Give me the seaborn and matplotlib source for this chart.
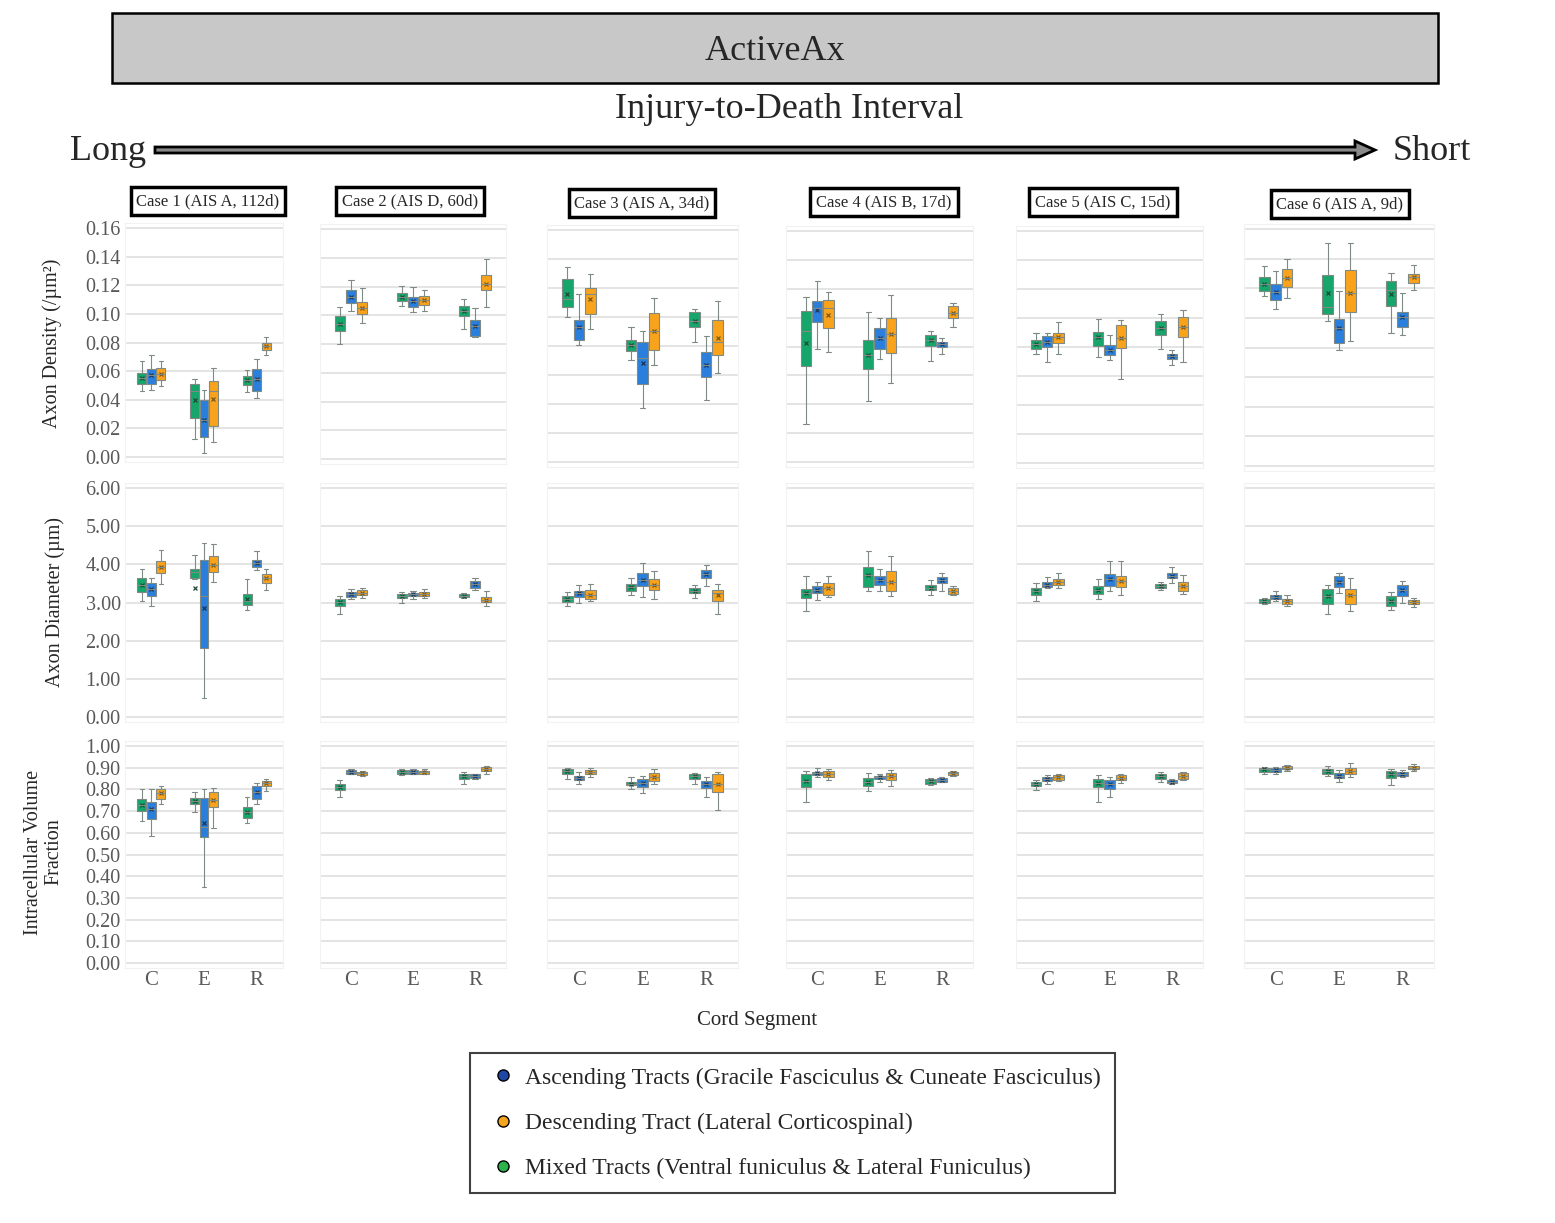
import itertools

import numpy as np
import pandas as pd
import seaborn as sns
import matplotlib.pyplot as plt
from matplotlib.patches import Rectangle, FancyArrow
from matplotlib.lines import Line2D

# categories
SEGMENTS = ['C', 'E', 'R']
TRACTS = ['Mixed', 'Ascending', 'Descending']
CASES = ['Case 1 (AIS A, 112d)', 'Case 2 (AIS D, 60d)', 'Case 3 (AIS A, 34d)',
         'Case 4 (AIS B, 17d)', 'Case 5 (AIS C, 15d)', 'Case 6 (AIS A, 9d)']
BOX_COLORS = ['#16a56b', '#2a7fdc', '#f9a31c']
MEAN_COLORS = ['#1d4a37', '#1d3557', '#7a5a1c']
LEGEND_LABELS = ['Ascending Tracts (Gracile Fasciculus & Cuneate Fasciculus)',
                 'Descending Tract (Lateral Corticospinal)',
                 'Mixed Tracts (Ventral funiculus & Lateral Funiculus)']
LEGEND_COLORS = ['#1f48a6', '#f4a51c', '#2db34c']

# one row per case, 9 values per row:
# C-mixed, C-asc, C-desc, E-mixed, E-asc, E-desc, R-mixed, R-asc, R-desc

# ---- Axon density (/um^2) ----
DENS_LO = [
    [0.046, 0.047, 0.0495, 0.0128, 0.003, 0.0105, 0.0453, 0.041, 0.071],
    [0.0802, 0.1027, 0.0946, 0.1062, 0.1023, 0.1027, 0.0907, 0.0849, 0.1055],
    [0.1001, 0.081, 0.0914, 0.0702, 0.0373, 0.0668, 0.0829, 0.0426, 0.0617],
    [0.0266, 0.0785, 0.076, 0.0423, 0.0711, 0.0547, 0.0697, 0.075, 0.0935],
    [0.075, 0.0695, 0.075, 0.0732, 0.0709, 0.0582, 0.0785, 0.0675, 0.0698],
    [0.1149, 0.1061, 0.1134, 0.0976, 0.078, 0.0845, 0.0901, 0.0886, 0.1185],
]
DENS_Q1 = [
    [0.0512, 0.0512, 0.054, 0.0274, 0.014, 0.0216, 0.0502, 0.046, 0.0749],
    [0.0888, 0.1085, 0.1009, 0.11, 0.1057, 0.1069, 0.0997, 0.0858, 0.1178],
    [0.1068, 0.084, 0.1022, 0.0764, 0.0541, 0.0769, 0.093, 0.0585, 0.0737],
    [0.0667, 0.0967, 0.093, 0.0646, 0.0785, 0.0757, 0.0803, 0.0797, 0.1],
    [0.0785, 0.0801, 0.0831, 0.081, 0.0748, 0.0794, 0.0882, 0.0714, 0.087],
    [0.1183, 0.1122, 0.1206, 0.1028, 0.0829, 0.1039, 0.1082, 0.0937, 0.1235],
]
DENS_MED = [
    [0.055, 0.057, 0.058, 0.046, 0.0256, 0.046, 0.0535, 0.0544, 0.0774],
    [0.094, 0.1127, 0.105, 0.1129, 0.1101, 0.1104, 0.1032, 0.0928, 0.122],
    [0.1123, 0.0932, 0.116, 0.081, 0.0714, 0.0902, 0.0972, 0.0672, 0.083],
    [0.0905, 0.107, 0.107, 0.0743, 0.0861, 0.0889, 0.0843, 0.0815, 0.1034],
    [0.082, 0.0836, 0.087, 0.087, 0.0778, 0.0863, 0.0932, 0.0737, 0.0939],
    [0.1228, 0.1174, 0.1269, 0.1075, 0.0931, 0.1167, 0.119, 0.1005, 0.1273],
]
DENS_Q3 = [
    [0.0588, 0.0616, 0.062, 0.0507, 0.0395, 0.0528, 0.0567, 0.0614, 0.0795],
    [0.0992, 0.1173, 0.109, 0.1155, 0.1127, 0.1132, 0.1062, 0.0965, 0.1282],
    [0.1262, 0.0978, 0.12, 0.084, 0.0826, 0.1029, 0.1036, 0.0762, 0.0978],
    [0.1046, 0.1115, 0.1124, 0.0843, 0.093, 0.0997, 0.0882, 0.0831, 0.1078],
    [0.0847, 0.0875, 0.0898, 0.0905, 0.0813, 0.0955, 0.0981, 0.0755, 0.1004],
    [0.1273, 0.123, 0.133, 0.1291, 0.0992, 0.1325, 0.1246, 0.1043, 0.1296],
]
DENS_HI = [
    [0.0674, 0.0716, 0.067, 0.0547, 0.0465, 0.0623, 0.061, 0.0686, 0.0835],
    [0.1057, 0.1243, 0.119, 0.1201, 0.1194, 0.1178, 0.1113, 0.105, 0.1394],
    [0.1347, 0.1158, 0.1294, 0.0932, 0.0902, 0.1128, 0.1052, 0.087, 0.1112],
    [0.1143, 0.1254, 0.1177, 0.1039, 0.1, 0.1154, 0.0907, 0.0859, 0.1104],
    [0.0898, 0.0898, 0.0974, 0.099, 0.0882, 0.0985, 0.1031, 0.0778, 0.1054],
    [0.1352, 0.1318, 0.1397, 0.1505, 0.1179, 0.1505, 0.1303, 0.1167, 0.1359],
]
DENS_MEAN = [
    [0.055, 0.057, 0.058, 0.0395, 0.0256, 0.0405, 0.0535, 0.0544, 0.0774],
    [0.094, 0.1127, 0.105, 0.1129, 0.1101, 0.1104, 0.1032, 0.0928, 0.122],
    [0.1156, 0.0932, 0.1123, 0.081, 0.0684, 0.0902, 0.0972, 0.0672, 0.0854],
    [0.0824, 0.105, 0.102, 0.0743, 0.0861, 0.0889, 0.0843, 0.0815, 0.1034],
    [0.082, 0.0836, 0.087, 0.087, 0.0778, 0.0863, 0.0932, 0.0737, 0.0939],
    [0.1228, 0.1174, 0.1269, 0.1167, 0.0931, 0.1167, 0.1161, 0.1005, 0.1273],
]

# ---- Axon diameter (um) ----
DIAM_LO = [
    [3.04, 2.91, 3.49, 3.61, 0.51, 3.54, 2.80, 3.85, 3.32],
    [2.69, 3.08, 3.11, 3.00, 3.09, 3.12, 3.11, 3.32, 2.91],
    [2.91, 2.99, 3.03, 3.20, 3.15, 3.10, 3.11, 3.42, 2.70],
    [2.79, 3.06, 3.15, 3.29, 3.31, 3.17, 3.20, 3.31, 3.20],
    [3.04, 3.37, 3.37, 3.09, 3.29, 3.20, 3.33, 3.50, 3.22],
    [2.95, 3.03, 2.91, 2.69, 3.24, 2.78, 2.80, 3.00, 2.88],
]
DIAM_Q1 = [
    [3.28, 3.17, 3.78, 3.63, 1.80, 3.80, 2.93, 3.93, 3.50],
    [2.92, 3.14, 3.19, 3.11, 3.17, 3.16, 3.14, 3.39, 3.01],
    [3.02, 3.15, 3.09, 3.29, 3.42, 3.33, 3.24, 3.63, 3.04],
    [3.12, 3.24, 3.20, 3.40, 3.46, 3.29, 3.33, 3.50, 3.23],
    [3.19, 3.40, 3.45, 3.23, 3.43, 3.40, 3.38, 3.63, 3.29],
    [3.00, 3.08, 2.95, 2.95, 3.40, 2.95, 2.91, 3.16, 2.95],
]
DIAM_MED = [
    [3.47, 3.35, 3.93, 3.80, 3.18, 3.99, 3.05, 4.03, 3.63],
    [3.01, 3.22, 3.26, 3.17, 3.21, 3.22, 3.18, 3.48, 3.07],
    [3.10, 3.24, 3.20, 3.40, 3.58, 3.47, 3.31, 3.74, 3.24],
    [3.24, 3.33, 3.37, 3.71, 3.58, 3.55, 3.39, 3.58, 3.31],
    [3.29, 3.47, 3.54, 3.33, 3.61, 3.56, 3.43, 3.70, 3.43],
    [3.04, 3.14, 3.03, 3.18, 3.54, 3.20, 3.04, 3.33, 3.01],
]
DIAM_Q3 = [
    [3.65, 3.50, 4.08, 3.89, 4.12, 4.23, 3.23, 4.12, 3.74],
    [3.10, 3.27, 3.32, 3.23, 3.26, 3.27, 3.22, 3.57, 3.15],
    [3.18, 3.31, 3.34, 3.49, 3.76, 3.62, 3.38, 3.85, 3.33],
    [3.36, 3.42, 3.51, 3.93, 3.69, 3.82, 3.45, 3.66, 3.38],
    [3.38, 3.54, 3.61, 3.42, 3.74, 3.70, 3.48, 3.76, 3.54],
    [3.09, 3.20, 3.09, 3.36, 3.69, 3.35, 3.18, 3.46, 3.06],
]
DIAM_HI = [
    [3.88, 3.63, 4.38, 4.25, 4.56, 4.54, 3.62, 4.34, 3.87],
    [3.18, 3.36, 3.39, 3.27, 3.29, 3.35, 3.26, 3.65, 3.29],
    [3.27, 3.47, 3.49, 3.65, 4.03, 3.83, 3.46, 3.97, 3.49],
    [3.69, 3.55, 3.69, 4.36, 3.87, 4.21, 3.60, 3.76, 3.42],
    [3.50, 3.68, 3.77, 3.62, 4.08, 4.09, 3.54, 3.94, 3.72],
    [3.13, 3.29, 3.20, 3.47, 3.78, 3.65, 3.27, 3.56, 3.12],
]
DIAM_MEAN = [
    [3.47, 3.35, 3.93, 3.39, 2.86, 3.99, 3.10, 4.03, 3.63],
    [3.01, 3.22, 3.26, 3.17, 3.21, 3.22, 3.18, 3.48, 3.07],
    [3.10, 3.24, 3.20, 3.40, 3.58, 3.47, 3.31, 3.74, 3.20],
    [3.24, 3.33, 3.37, 3.71, 3.58, 3.55, 3.39, 3.58, 3.31],
    [3.29, 3.47, 3.54, 3.33, 3.61, 3.56, 3.43, 3.70, 3.43],
    [3.04, 3.14, 3.03, 3.18, 3.54, 3.20, 3.04, 3.33, 3.01],
]

# ---- Intracellular volume fraction ----
ICVF_LO = [
    [0.655, 0.586, 0.731, 0.697, 0.348, 0.623, 0.643, 0.731, 0.792],
    [0.765, 0.872, 0.864, 0.866, 0.869, 0.870, 0.824, 0.850, 0.873],
    [0.849, 0.823, 0.858, 0.802, 0.784, 0.823, 0.827, 0.764, 0.704],
    [0.741, 0.856, 0.842, 0.794, 0.833, 0.817, 0.820, 0.833, 0.864],
    [0.798, 0.826, 0.837, 0.744, 0.763, 0.829, 0.833, 0.823, 0.842],
    [0.873, 0.873, 0.884, 0.861, 0.835, 0.858, 0.819, 0.855, 0.887],
]
ICVF_Q1 = [
    [0.700, 0.663, 0.758, 0.731, 0.582, 0.717, 0.669, 0.755, 0.817],
    [0.796, 0.873, 0.867, 0.872, 0.872, 0.873, 0.847, 0.853, 0.883],
    [0.872, 0.843, 0.869, 0.818, 0.812, 0.838, 0.849, 0.806, 0.787],
    [0.811, 0.865, 0.859, 0.816, 0.848, 0.842, 0.826, 0.836, 0.868],
    [0.814, 0.840, 0.845, 0.811, 0.803, 0.842, 0.850, 0.829, 0.850],
    [0.881, 0.881, 0.892, 0.872, 0.853, 0.872, 0.853, 0.861, 0.892],
]
ICVF_MED = [
    [0.728, 0.709, 0.782, 0.746, 0.628, 0.751, 0.694, 0.786, 0.828],
    [0.809, 0.881, 0.875, 0.881, 0.881, 0.881, 0.861, 0.861, 0.892],
    [0.883, 0.853, 0.880, 0.827, 0.830, 0.858, 0.861, 0.824, 0.823],
    [0.837, 0.874, 0.873, 0.834, 0.856, 0.860, 0.837, 0.845, 0.876],
    [0.825, 0.850, 0.856, 0.829, 0.825, 0.854, 0.860, 0.836, 0.864],
    [0.892, 0.890, 0.900, 0.883, 0.864, 0.887, 0.873, 0.872, 0.898],
]
ICVF_Q3 = [
    [0.758, 0.743, 0.800, 0.762, 0.762, 0.786, 0.720, 0.815, 0.840],
    [0.823, 0.889, 0.881, 0.889, 0.889, 0.887, 0.873, 0.869, 0.901],
    [0.892, 0.861, 0.889, 0.836, 0.846, 0.877, 0.872, 0.841, 0.869],
    [0.871, 0.881, 0.884, 0.853, 0.864, 0.876, 0.848, 0.853, 0.881],
    [0.833, 0.859, 0.865, 0.850, 0.845, 0.865, 0.871, 0.842, 0.874],
    [0.900, 0.898, 0.907, 0.892, 0.877, 0.897, 0.887, 0.880, 0.906],
]
ICVF_HI = [
    [0.800, 0.800, 0.817, 0.789, 0.800, 0.805, 0.763, 0.828, 0.846],
    [0.843, 0.894, 0.886, 0.894, 0.892, 0.892, 0.881, 0.873, 0.906],
    [0.900, 0.880, 0.898, 0.855, 0.864, 0.895, 0.877, 0.858, 0.880],
    [0.884, 0.899, 0.895, 0.876, 0.873, 0.890, 0.853, 0.859, 0.884],
    [0.842, 0.865, 0.871, 0.868, 0.856, 0.871, 0.879, 0.848, 0.879],
    [0.904, 0.904, 0.914, 0.907, 0.889, 0.920, 0.895, 0.889, 0.915],
]
ICVF_MEAN = [
    [0.728, 0.709, 0.782, 0.746, 0.643, 0.751, 0.694, 0.786, 0.828],
    [0.809, 0.881, 0.875, 0.881, 0.881, 0.881, 0.861, 0.861, 0.892],
    [0.883, 0.853, 0.880, 0.827, 0.830, 0.858, 0.861, 0.824, 0.823],
    [0.837, 0.874, 0.873, 0.834, 0.856, 0.860, 0.837, 0.845, 0.876],
    [0.825, 0.850, 0.856, 0.829, 0.825, 0.854, 0.860, 0.836, 0.864],
    [0.892, 0.890, 0.900, 0.883, 0.864, 0.887, 0.873, 0.872, 0.898],
]

ROWS = [
    dict(stats=(DENS_LO, DENS_Q1, DENS_MED, DENS_Q3, DENS_HI), mean=DENS_MEAN,
         ticks=np.arange(0, 0.161, 0.02), top=0.16),
    dict(stats=(DIAM_LO, DIAM_Q1, DIAM_MED, DIAM_Q3, DIAM_HI), mean=DIAM_MEAN,
         ticks=np.arange(0, 6.01, 1.0), top=6.0),
    dict(stats=(ICVF_LO, ICVF_Q1, ICVF_MED, ICVF_Q3, ICVF_HI), mean=ICVF_MEAN,
         ticks=np.arange(0, 1.001, 0.1), top=1.0),
]

# layout in pixels of the reference
W, H = 1555, 1223
COL_X = [(125, 283), (320, 506), (547, 738), (786, 973), (1016, 1203), (1244, 1434)]
ROW_Y = [
    [(228, 457), (229, 459), (230, 462), (231, 462), (231, 463), (229, 466)],
    [(488, 717)] * 6,
    [(746, 963)] * 6,
]
CASE_LABEL_POS = [(208, 201), (410, 201), (642, 203), (884, 202), (1103, 202), (1340, 204)]
PAD = 5

sns.set_style('white')
plt.rcParams['font.family'] = ['Liberation Serif', 'DejaVu Serif']
fig = plt.figure(figsize=(W / 100, H / 100), dpi=100)

# overlay axes in pixel coordinates for the decorations
ov = fig.add_axes([0, 0, 1, 1])
ov.set_xlim(0, W)
ov.set_ylim(H, 0)
ov.axis('off')


def draw_panel(ax, r, case, show_y, show_x):
    row = ROWS[r]
    stats = [np.asarray(s[case]) for s in row['stats']]
    recs = []
    mrecs = []
    for k, (seg, tract) in enumerate(itertools.product(SEGMENTS, TRACTS)):
        for s in stats:
            recs.append((seg, tract, s[k]))
        mrecs.append((seg, tract, row['mean'][case][k]))
    df = pd.DataFrame(recs, columns=['segment', 'tract', 'value'])
    mdf = pd.DataFrame(mrecs, columns=['segment', 'tract', 'value'])

    sns.boxplot(data=df, x='segment', y='value', hue='tract',
                order=SEGMENTS, hue_order=TRACTS, palette=BOX_COLORS,
                saturation=1, width=0.54, gap=0.08, whis=(0, 100),
                linewidth=0.8, linecolor='#7f8a85', showfliers=False,
                legend=False, ax=ax)
    sns.pointplot(data=mdf, x='segment', y='value', hue='tract',
                  order=SEGMENTS, hue_order=TRACTS, palette=MEAN_COLORS,
                  dodge=0.36, markers='x', linestyle='none', errorbar=None,
                  markersize=3.5, markeredgewidth=0.9, legend=False, ax=ax)

    top = row['top']
    y0, y1 = ROW_Y[r][case]
    ext = PAD * top / (y1 - y0)
    ax.set_ylim(-ext, top + ext)
    ax.set_xlim(-0.5, 2.5)
    ax.set_yticks(row['ticks'])
    ax.set_yticklabels(['%.2f' % t for t in row['ticks']])
    ax.set_xlabel('')
    ax.set_ylabel('')
    ax.set_axisbelow(True)
    ax.yaxis.grid(True, color='#e4e4e4', lw=1.4)
    ax.xaxis.grid(False)
    for sp in ax.spines.values():
        sp.set_color('#f2f2f2')
        sp.set_linewidth(0.8)
    ax.tick_params(axis='y', length=0, pad=3, labelsize=14.5,
                   labelcolor='#595959', labelleft=show_y)
    ax.tick_params(axis='x', length=0, pad=2, labelsize=15,
                   labelcolor='#595959', labelbottom=show_x)


for r in range(len(ROWS)):
    for c in range(6):
        x0, x1 = COL_X[c]
        y0, y1 = ROW_Y[r][c]
        ax = fig.add_axes([x0 / W, 1 - (y1 + PAD) / H,
                           (x1 - x0) / W, (y1 - y0 + 2 * PAD) / H])
        draw_panel(ax, r, c, show_y=(c == 0), show_x=(r == 2))

# title block
ov.add_patch(Rectangle((112, 13), 1326, 70, facecolor='#c9c8c8',
                       edgecolor='black', lw=1.8))
ov.text(775, 51, 'ActiveAx', ha='center', va='center', fontsize=26)
ov.text(789, 109, 'Injury-to-Death Interval', ha='center', va='center', fontsize=26)
ov.add_patch(FancyArrow(155, 150, 1220, 0, width=6, head_width=18,
                        head_length=20, length_includes_head=True,
                        facecolor='#8a8a8a', edgecolor='black', lw=2))
ov.text(108, 151, 'Long', ha='center', va='center', fontsize=26)
ov.text(1432, 151, 'Short', ha='center', va='center', fontsize=26)

for label, (cx, cy) in zip(CASES, CASE_LABEL_POS):
    ov.text(cx, cy, label, ha='center', va='center', fontsize=12,
            bbox=dict(boxstyle='square,pad=0.35', fc='white', ec='black', lw=2.5))

# axis titles
ov.text(52, 343, 'Axon Density (/µm²)', rotation=90, ha='center', va='center', fontsize=14.5)
ov.text(55, 602, 'Axon Diameter (µm)', rotation=90, ha='center', va='center', fontsize=14.5)
ov.text(44, 852, 'Intracellular Volume\nFraction', rotation=90, ha='center',
        va='center', multialignment='center', linespacing=1.1, fontsize=14.5)
ov.text(757, 1020, 'Cord Segment', ha='center', va='center', fontsize=15)

handles = [Line2D([], [], marker='o', linestyle='none', markerfacecolor=col,
                  markeredgecolor='black', markeredgewidth=1, markersize=8)
           for col in LEGEND_COLORS]
leg = fig.legend(handles, LEGEND_LABELS, loc='upper left',
                 bbox_to_anchor=(470 / W, 1 - 1053 / H), borderaxespad=0,
                 fontsize=17, frameon=True, fancybox=False, edgecolor='#404040',
                 framealpha=1, borderpad=0.6, handlelength=1.6,
                 handletextpad=0.15, labelspacing=1.0)
leg.get_frame().set_linewidth(1.5)

fig.savefig('out.png', dpi=100)
